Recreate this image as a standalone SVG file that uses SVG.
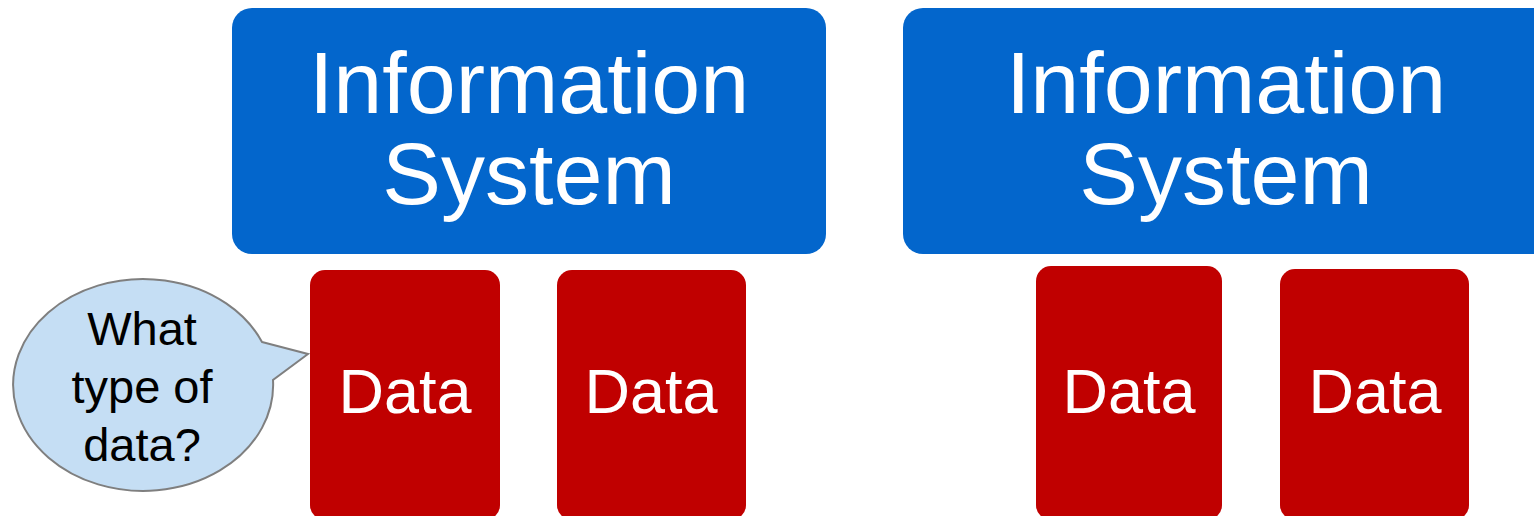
<svg xmlns="http://www.w3.org/2000/svg" width="1534" height="516" viewBox="0 0 1534 516">
  <style>
    .sys { fill: #0366CC; }
    .data { fill: #C00000; }
    .lbl { font-family: "Liberation Sans", Arial, sans-serif; fill: #ffffff; text-anchor: middle; }
    .big { font-size: 88px; }
    .mid { font-size: 63px; }
    .bubble { fill: #C5DEF4; stroke: #7F7F7F; stroke-width: 2; }
    .q { font-family: "Liberation Sans", Arial, sans-serif; font-size: 47px; fill: #000000; text-anchor: middle; }
  </style>
  <rect width="1534" height="516" fill="#ffffff"/>

  <!-- left system -->
  <g id="system-left">
    <rect class="sys" x="232" y="8" width="594" height="246" rx="20"/>
    <text class="lbl big" x="529" y="113">Information</text>
    <text class="lbl big" x="529" y="204">System</text>
  </g>
  <g id="data-left-1">
    <rect class="data" x="310" y="270" width="190" height="250" rx="15"/>
    <text class="lbl mid" x="405" y="413">Data</text>
  </g>
  <g id="data-left-2">
    <rect class="data" x="557" y="270" width="189" height="250" rx="15"/>
    <text class="lbl mid" x="651" y="413">Data</text>
  </g>

  <!-- right system -->
  <g id="system-right">
    <rect class="sys" x="903" y="8" width="660" height="246" rx="20"/>
    <text class="lbl big" x="1226" y="113">Information</text>
    <text class="lbl big" x="1226" y="204">System</text>
  </g>
  <g id="data-right-1">
    <rect class="data" x="1036" y="266" width="186" height="254" rx="15"/>
    <text class="lbl mid" x="1129" y="413">Data</text>
  </g>
  <g id="data-right-2">
    <rect class="data" x="1280" y="269" width="189" height="251" rx="15"/>
    <text class="lbl mid" x="1375" y="413">Data</text>
  </g>

  <!-- speech bubble -->
  <g id="callout">
    <path class="bubble" d="M 262 342 L 308 354 L 273 380 A 130 106 0 1 1 262 342 Z"/>
    <text class="q" x="142" y="345">What</text>
    <text class="q" x="142" y="403">type of</text>
    <text class="q" x="142" y="461">data?</text>
  </g>

  <g id="connectors"/>
</svg>
